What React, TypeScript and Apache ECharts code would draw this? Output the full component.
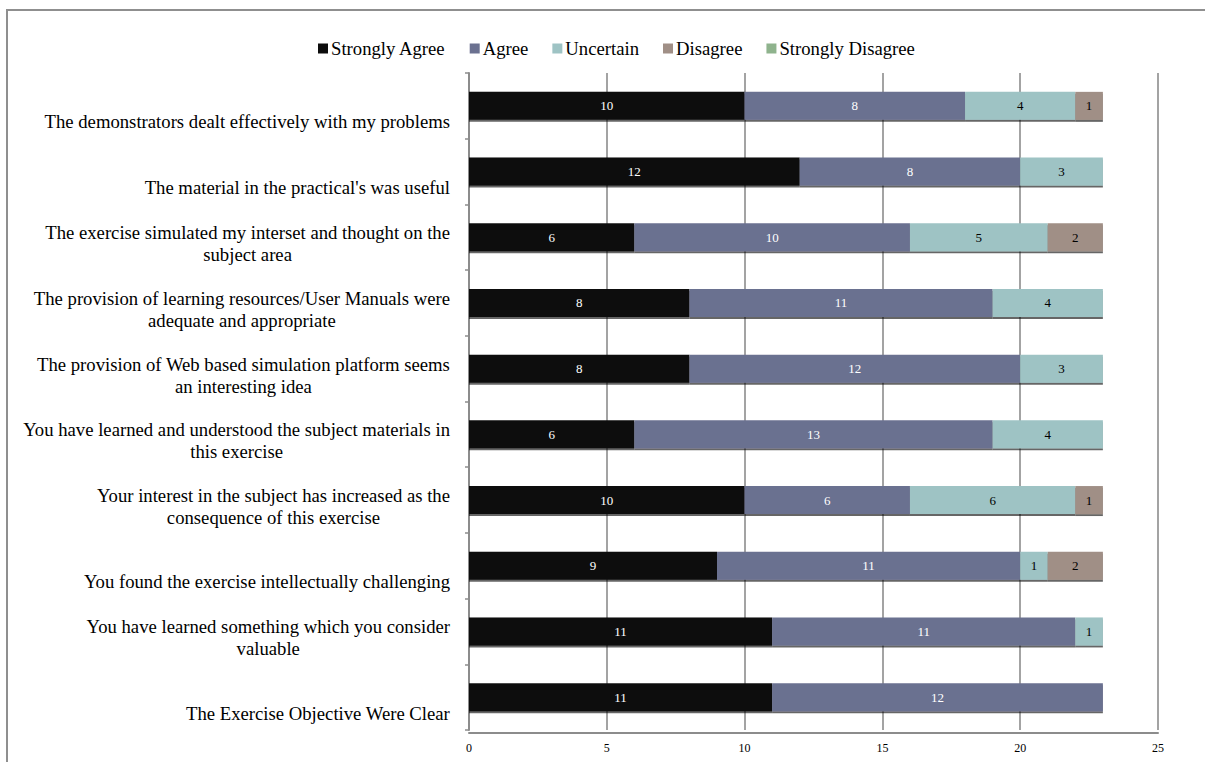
import React, { useEffect, useRef } from "react";
import * as echarts from "echarts";

const categories: string[] = [
  "The demonstrators dealt effectively with my problems",
  "The material in the practical's was useful",
  "The exercise simulated my interset and thought on the\nsubject area",
  "The provision of learning resources/User Manuals were\nadequate and appropriate",
  "The provision of Web based simulation platform seems\nan interesting idea",
  "You have learned and understood the subject materials in\nthis exercise",
  "Your interest in the subject has increased as the\nconsequence of this exercise",
  "You found the exercise intellectually challenging",
  "You have learned something which you consider\nvaluable",
  "The Exercise Objective Were Clear",
];

const seriesNames: string[] = ["Strongly Agree", "Agree", "Uncertain", "Disagree", "Strongly Disagree"];

const stronglyAgree: number[] = [10, 12, 6, 8, 8, 6, 10, 9, 11, 11];
const agree: number[] = [8, 8, 10, 11, 12, 13, 6, 11, 11, 12];
const uncertain: number[] = [4, 3, 5, 4, 3, 4, 6, 1, 1, 0];
const disagree: number[] = [1, 0, 2, 0, 0, 0, 1, 2, 0, 0];
const stronglyDisagree: number[] = [0, 0, 0, 0, 0, 0, 0, 0, 0, 0];

const xTicks = { min: 0, max: 25, interval: 5 };

const colors = ["#0c0c0c", "#6b7190", "#9ec3c4", "#a08f86", "#8fb38d"];
const labelColors = ["#ffffff", "#ffffff", "#000000", "#000000", "#000000"];

const FONT = "'Liberation Serif', 'Times New Roman', serif";

export default function App() {
  const ref = useRef<HTMLDivElement>(null);
  useEffect(() => {
    if (!ref.current) return;
    const chart = echarts.init(ref.current, null, { renderer: "svg" });
    const values = [stronglyAgree, agree, uncertain, disagree, stronglyDisagree];
    const baseRich = {
      align: "center",
      fontSize: 18.7,
      fontFamily: FONT,
      color: "#000",
      lineHeight: 22,
    };
    chart.setOption({
      animation: false,
      backgroundColor: "#ffffff",
      textStyle: { fontFamily: FONT },
      graphic: [
        {
          type: "rect",
          shape: { x: 7, y: 10, width: 1240, height: 800 },
          style: { fill: "none", stroke: "#8f8f8f", lineWidth: 2 },
          silent: true,
        },
      ],
      legend: {
        top: 34,
        left: 313,
        itemWidth: 10,
        itemHeight: 10,
        itemGap: 24,
        icon: "rect",
        textStyle: { fontSize: 18.7, fontFamily: FONT, color: "#000", padding: [0, 0, 0, -2] },
        data: seriesNames,
      },
      grid: { left: 469, right: 47, top: 73, bottom: 32, containLabel: false },
      xAxis: {
        type: "value",
        min: xTicks.min,
        max: xTicks.max,
        interval: xTicks.interval,
        offset: 3,
        axisLine: { show: true, lineStyle: { color: "#8c8c8c", width: 2 } },
        axisTick: { show: false },
        axisLabel: { fontSize: 12, fontFamily: FONT, color: "#000", margin: 9 },
        splitLine: { show: true, lineStyle: { color: "#858585", width: 1.5 } },
      },
      yAxis: {
        type: "category",
        inverse: true,
        data: categories,
        offset: 4,
        axisLine: { show: true, lineStyle: { color: "#8c8c8c", width: 2 } },
        axisTick: { show: true, length: 4, lineStyle: { color: "#8c8c8c", width: 1.5 } },
        axisLabel: {
          margin: 15,
          interval: 0,
          formatter: (v: string) => {
            const lines = v.split("\n");
            const st = lines.length > 1 ? "d" : "s";
            return lines.map((l) => `{${st}|${l}}`).join("\n");
          },
          rich: {
            s: { ...baseRich, padding: [32, 0, 0, 0] },
            d: { ...baseRich, padding: [13, 0, 0, 0] },
          },
        },
      },
      series: seriesNames.map((name, i) => ({
        name,
        type: "bar",
        stack: "total",
        barWidth: 28,
        data: values[i],
        itemStyle: {
          color: colors[i],
          shadowColor: "rgba(0,0,0,0.6)",
          shadowOffsetY: 2,
          shadowBlur: 1,
        },
        label: {
          show: true,
          position: "inside",
          fontSize: 13,
          fontFamily: FONT,
          color: labelColors[i],
          formatter: (p: any) => (p.value ? String(p.value) : ""),
        },
      })),
    });
    return () => chart.dispose();
  }, []);
  return (
    <div
      ref={ref}
      style={{ position: "fixed", left: 0, top: 0, width: 1205, height: 762 }}
    />
  );
}
